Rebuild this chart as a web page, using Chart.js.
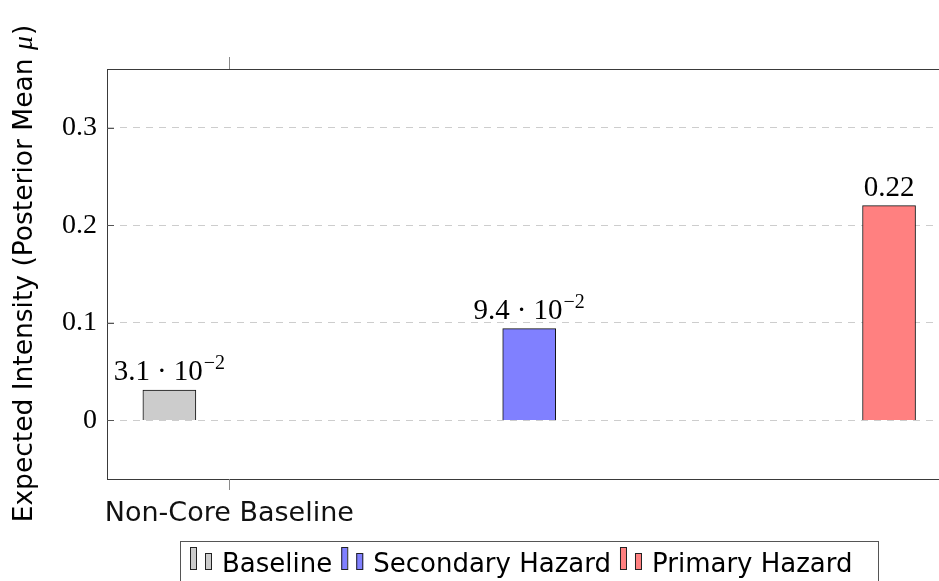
<!DOCTYPE html>
<html>
<head>
<meta charset="utf-8">
<script src="https://cdn.jsdelivr.net/npm/chart.js@4.4.1/dist/chart.umd.min.js"></script>
<style>
  html, body { margin: 0; padding: 0; overflow: hidden; background: #fff; }
  #wrap { position: relative; width: 939px; height: 581px; }
</style>
</head>
<body>
<div id="wrap"><canvas id="c" width="939" height="581"></canvas></div>
<script>
// ---- data ----
const categories = ['Non-Core Baseline'];
const seriesNames = ['Baseline', 'Secondary Hazard', 'Primary Hazard'];
const seriesValues = [0.031, 0.094, 0.22];
const yTickValues = [0, 0.1, 0.2, 0.3];
const yAxisTitle = 'Expected Intensity (Posterior Mean ';
const yAxisSymbol = 'μ';

// ---- styling / layout ----
const fills = ['#cccccc', '#8080ff', '#ff8080'];
const SERIF = '"Liberation Serif", "DejaVu Serif", serif';
const SANS = '"DejaVu Sans", "Noto Sans", sans-serif';
const CANVAS_W = 939, CANVAS_H = 581;
const plot = { left: 107, top: 69, right: 939, bottom: 479 };
// the axis continues past the right edge of the canvas
const xRange = { min: -2.04, max: 11.833 };
const yRange = { min: -0.06, max: 0.36 };
// bar shift of each series relative to its category position (pgfplots-style ybar shift)
const barShift = i => -1 + 6 * i;

// value label: small numbers in a·10^b form, the rest as plain decimals
function formatValue(v) {
  if (v !== 0 && Math.abs(v) < 0.1) {
    const e = Math.floor(Math.log10(Math.abs(v)));
    const m = (v / Math.pow(10, e)).toFixed(1);
    return { mant: m, exp: String(e).replace('-', '\u2212') };
  }
  return { mant: String(v), exp: null };
}

const overlay = {
  id: 'overlay',
  afterDatasetsDraw(chart) {
    const ctx = chart.ctx;
    const a = chart.chartArea;
    const xs = chart.scales.x, ys = chart.scales.y;
    ctx.save();

    // axis frame (left, top, bottom)
    ctx.strokeStyle = '#3a3a3a';
    ctx.lineWidth = 1;
    ctx.beginPath();
    ctx.moveTo(a.left + 0.5, a.top); ctx.lineTo(a.left + 0.5, a.bottom + 0.5);
    ctx.moveTo(a.left, a.top + 0.5); ctx.lineTo(a.right, a.top + 0.5);
    ctx.moveTo(a.left, a.bottom + 0.5); ctx.lineTo(a.right, a.bottom + 0.5);
    ctx.stroke();

    // inner y tick marks
    ctx.strokeStyle = '#555';
    ctx.beginPath();
    yTickValues.forEach(v => {
      const y = Math.round(ys.getPixelForValue(v)) + 0.5;
      ctx.moveTo(a.left, y); ctx.lineTo(a.left + 7, y);
    });
    ctx.stroke();

    // outer x tick marks at the category position
    ctx.strokeStyle = '#8a8a8a';
    ctx.beginPath();
    categories.forEach((c, k) => {
      const x = Math.round(xs.getPixelForValue(k)) + 0.5;
      ctx.moveTo(x, a.top - 12); ctx.lineTo(x, a.top);
      ctx.moveTo(x, a.bottom); ctx.lineTo(x, a.bottom + 11);
    });
    ctx.stroke();

    // value labels above bars
    ctx.fillStyle = '#000';
    ctx.textBaseline = 'alphabetic';
    ctx.textAlign = 'left';
    chart.data.datasets.forEach((ds, i) => {
      const bar = chart.getDatasetMeta(i).data[0];
      const f = formatValue(seriesValues[i]);
      const big = '29px ' + SERIF, small = '20px ' + SERIF;
      const base = bar.y - 10;
      ctx.font = big;
      if (f.exp === null) {
        const w = ctx.measureText(f.mant).width;
        ctx.fillText(f.mant, bar.x - w / 2, base);
      } else {
        const gap = 7;
        const wm = ctx.measureText(f.mant).width;
        const wd = ctx.measureText('\u00B7').width;
        const wt = ctx.measureText('10').width;
        ctx.font = small;
        const we = ctx.measureText(f.exp).width;
        const total = wm + gap + wd + gap + wt + 1 + we;
        let x = bar.x - total / 2;
        ctx.font = big;
        ctx.fillText(f.mant, x, base); x += wm + gap;
        ctx.fillText('\u00B7', x, base); x += wd + gap;
        ctx.fillText('10', x, base); x += wt + 1;
        ctx.font = small;
        ctx.fillText(f.exp, x, base - 11);
      }
    });

    // y axis title, rotated
    ctx.save();
    ctx.translate(25, (a.top + a.bottom) / 2);
    ctx.rotate(-Math.PI / 2);
    ctx.textBaseline = 'middle';
    const tFont = '26.5px ' + SANS, mFont = 'italic 28px ' + SERIF;
    ctx.font = tFont;
    const w1 = ctx.measureText(yAxisTitle).width;
    const w3 = ctx.measureText(')').width;
    ctx.font = mFont;
    const w2 = ctx.measureText(yAxisSymbol).width;
    let tx = -(w1 + w2 + w3) / 2;
    ctx.fillStyle = '#000';
    ctx.font = tFont; ctx.fillText(yAxisTitle, tx, 0); tx += w1;
    ctx.font = mFont; ctx.fillText(yAxisSymbol, tx, 0); tx += w2 + 1;
    ctx.font = tFont; ctx.fillText(')', tx, 0);
    ctx.restore();

    // legend box
    const lg = { left: 180.5, top: 541.5, right: 878.5 };
    ctx.strokeStyle = '#555';
    ctx.lineWidth = 1;
    ctx.strokeRect(lg.left, lg.top, lg.right - lg.left, 80);
    ctx.font = '26px ' + SANS;
    ctx.textBaseline = 'alphabetic';
    let lx = 190;
    chart.data.datasets.forEach((ds, i) => {
      ctx.fillStyle = fills[i];
      ctx.strokeStyle = '#222';
      ctx.fillRect(lx, 547, 6, 23); ctx.strokeRect(lx + 0.5, 547.5, 6, 22);
      ctx.fillRect(lx + 15, 553, 7, 17); ctx.strokeRect(lx + 15.5, 553.5, 6, 16);
      ctx.fillStyle = '#000';
      ctx.fillText(ds.label, lx + 32, 572);
      lx += 32 + ctx.measureText(ds.label).width + 9;
    });

    ctx.restore();
  }
};

new Chart(document.getElementById('c'), {
  type: 'bar',
  data: {
    datasets: seriesNames.map((name, i) => ({
      label: name,
      data: [{ x: 0 + barShift(i), y: seriesValues[i] }],
      backgroundColor: fills[i],
      borderColor: '#111',
      borderWidth: 1,
      barThickness: 53,
      grouped: false
    }))
  },
  options: {
    responsive: false,
    animation: false,
    devicePixelRatio: 1,
    layout: { padding: { left: 0, top: plot.top, right: CANVAS_W - plot.right, bottom: 0 } },
    plugins: { legend: { display: false }, tooltip: { enabled: false } },
    scales: {
      x: {
        type: 'linear',
        offset: false,
        min: xRange.min, max: xRange.max,
        afterFit: s => { s.height = CANVAS_H - plot.bottom; },
        afterBuildTicks: s => { s.ticks = categories.map((c, k) => ({ value: k })); },
        grid: { display: false, drawTicks: false, offset: false },
        border: { display: false },
        ticks: {
          callback: (v, k) => categories[k],
          font: { family: SANS, size: 27 },
          color: '#111',
          padding: 19,
          maxRotation: 0
        }
      },
      y: {
        min: yRange.min, max: yRange.max,
        afterFit: s => { s.width = plot.left; },
        afterBuildTicks: s => { s.ticks = yTickValues.map(v => ({ value: v })); },
        grid: { color: '#cdcdcd', lineWidth: 1, drawTicks: false },
        border: { display: false, dash: [7, 6] },
        ticks: {
          callback: v => String(v),
          font: { family: SERIF, size: 28 },
          color: '#000',
          padding: 10
        }
      }
    }
  },
  plugins: [overlay]
});
</script>
</body>
</html>
